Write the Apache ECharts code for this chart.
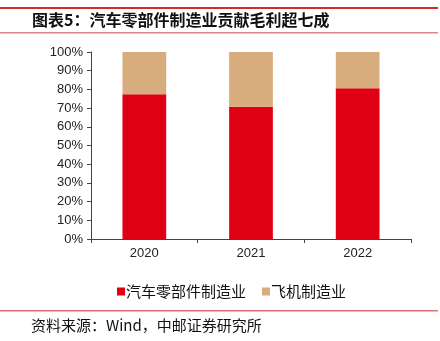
<!DOCTYPE html>
<html><head><meta charset="utf-8">
<script src="https://cdn.jsdelivr.net/npm/echarts@6/dist/echarts.min.js"></script>
<style>html,body{margin:0;padding:0;background:#fff}#c{width:440px;height:341px}</style>
</head><body><div id="c"></div>
<script>
const categories = ['2020', '2021', '2022'];
const autoParts = [77.4, 70.7, 80.6];
const aircraft = [22.6, 29.3, 19.4];
const seriesNames = ['汽车零部件制造业', '飞机制造业'];
const titleText = '图表5：汽车零部件制造业贡献毛利超七成';
const sourceText = '资料来源：Wind，中邮证券研究所';

const chart = echarts.init(document.getElementById('c'));
const cjk = '"Noto Sans CJK SC", sans-serif';
chart.setOption({
  animation: false,
  backgroundColor: '#fff',
  grid: { left: 91, right: 29, top: 52, bottom: 102 },
  legend: {
    data: seriesNames,
    top: 279,
    left: 112,
    itemWidth: 8, itemHeight: 8, itemGap: 16,
    icon: 'rect',
    textStyle: { fontFamily: cjk, fontSize: 15, color: '#111', padding: [0, 0, 0, -4] }
  },
  xAxis: {
    type: 'category', data: categories,
    axisLine: { lineStyle: { color: '#444', width: 1 } },
    axisTick: { show: true, length: 4, lineStyle: { color: '#444' } },
    axisLabel: { fontFamily: 'Liberation Sans, Arial', fontSize: 13, color: '#222', margin: 8 }
  },
  yAxis: {
    type: 'value', min: 0, max: 100, interval: 10,
    axisLine: { show: true, lineStyle: { color: '#444' } },
    axisTick: { show: true, length: 4, lineStyle: { color: '#444' } },
    splitLine: { show: false },
    axisLabel: { formatter: '{value}%', fontFamily: 'Liberation Sans, Arial', fontSize: 13, color: '#222', margin: 8 }
  },
  series: [
    { name: seriesNames[0], type: 'bar', stack: 's', data: autoParts, barWidth: '41%', itemStyle: { color: '#E00014' } },
    { name: seriesNames[1], type: 'bar', stack: 's', data: aircraft, barWidth: '41%', itemStyle: { color: '#D8AD7E' } }
  ],
  graphic: [
    { type: 'rect', shape: { x: 0, y: 7, width: 438, height: 2 }, style: { fill: '#D42A2A' } },
    { type: 'text', left: 32, top: 12, style: { text: titleText, font: 'bold 16px ' + cjk, fill: '#111' } },
    { type: 'rect', shape: { x: 0, y: 32, width: 438, height: 1.5 }, style: { fill: '#E08585' } },
    { type: 'rect', shape: { x: 0, y: 310, width: 438, height: 1.5 }, style: { fill: '#E07070' } },
    { type: 'text', left: 31, top: 318, style: { text: sourceText, font: '15px ' + cjk, fill: '#111' } }
  ]
});
</script></body></html>
